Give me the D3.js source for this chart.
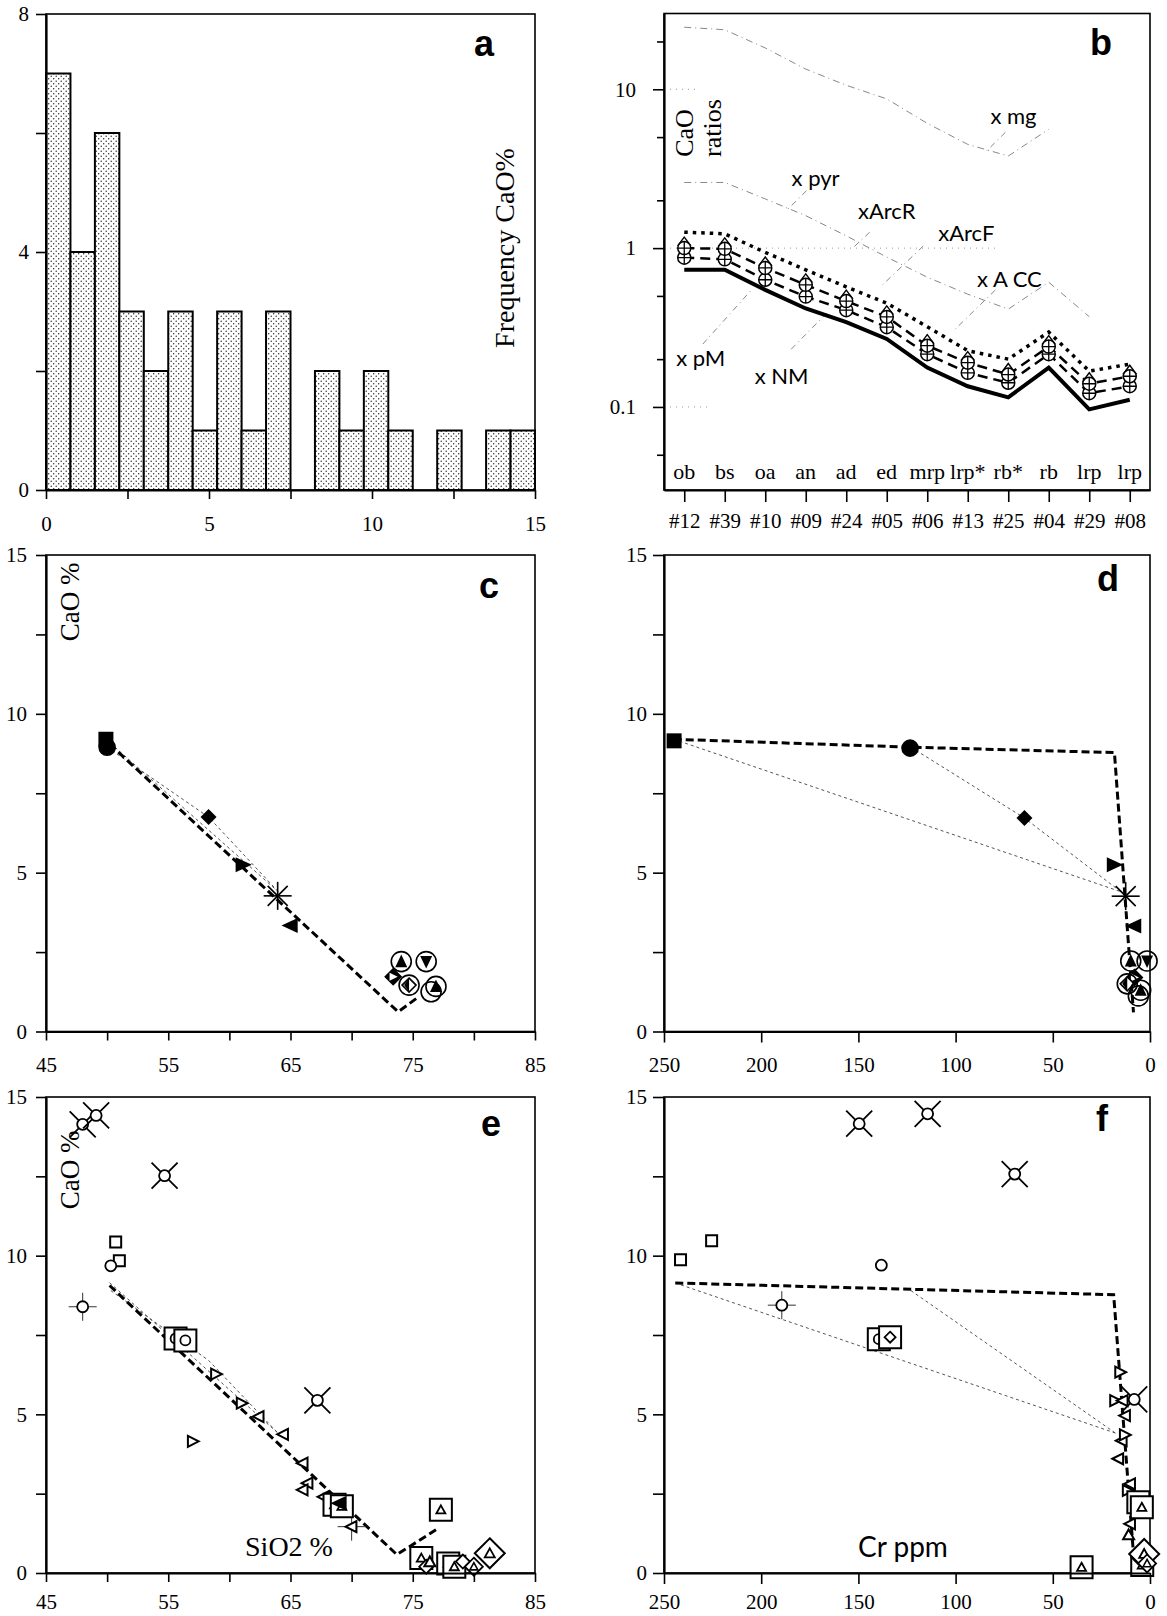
<!DOCTYPE html>
<html><head><meta charset="utf-8">
<script src="https://cdn.jsdelivr.net/npm/d3@7"></script>
<style>body{margin:0;background:#fff}svg{display:block}</style>
</head><body>
<script>
// ---------- panel a: CaO histogram ----------
const binEdges  = [0,0.75,1.5,2.25,3,3.75,4.5,5.25,6,6.75,7.5,8.25,9,9.75,10.5,11.25,12,12.75,13.5,14.25];
const binWidth  = 0.75;
const binCounts = [7,4,6,3,2,3,1,3,1,3,0,2,1,2,1,0,1,0,1,1];

// ---------- panel b: CaO ratios by sample ----------
const sampleCodes = ['#12','#39','#10','#09','#24','#05','#06','#13','#25','#04','#29','#08'];
const rockTypes   = ['ob','bs','oa','an','ad','ed','mrp','lrp*','rb*','rb','lrp','lrp'];
const ratioUpperDotted = [1.26,1.23,0.94,0.73,0.57,0.45,0.32,0.226,0.20,0.296,0.168,0.186];
const ratioUpperDashed = [1.0,0.99,0.75,0.587,0.464,0.369,0.243,0.19,0.16,0.24,0.14,0.156];
const ratioLowerDashed = [0.87,0.85,0.632,0.495,0.407,0.318,0.215,0.164,0.142,0.215,0.122,0.135];
const ratioSolid       = [0.732,0.732,0.546,0.417,0.342,0.268,0.177,0.135,0.115,0.177,0.0966,0.111];
const refMg    = [24.6,23.7,18.2,13.4,10.6,8.7,6.1,4.5,3.8,5.6];
const refCrust = [2.59,2.59,2.04,1.6,1.195,0.878,0.656,0.513,0.413,0.61,0.37];
// reservoir notes: [category position, ratio] for text, leader start, leader end
const refNotes = [
  {text:'x mg',   at:[7.56,6.04],  from:[7.93,5.36], to:[7.43,4.01]},
  {text:'x pyr',  at:[2.65,2.47],  from:[3.02,2.30], to:[2.56,1.76]},
  {text:'xArcR',  at:[4.29,1.52],  from:[4.58,1.26], to:[4.13,0.985]},
  {text:'xArcF',  at:[6.27,1.11],  from:[5.90,1.03], to:[4.87,0.579]},
  {text:'x A CC', at:[7.23,0.566], from:[7.68,0.544], to:[6.69,0.309]},
  {text:'x pM',   at:[-0.2,0.181], from:[0.46,0.249], to:[1.66,0.546]},
  {text:'x NM',   at:[1.74,0.139], from:[2.64,0.231], to:[3.52,0.39]}
];

// ---------- panel c: SiO2 vs CaO, model rocks ----------
const cPoints = [
  [49.9,9.2,'fSq'],[50.0,8.95,'fCi'],[58.3,6.75,'fDi'],[61.1,5.25,'fTR'],
  [63.95,4.27,'ast'],[65.0,3.34,'fTL'],
  [74.06,2.2,'cTU'],[76.1,2.2,'cTD'],[73.4,1.72,'fDT'],[74.7,1.46,'cDi'],
  [76.9,1.42,'cTU'],[76.5,1.25,'ci']
];
const cTrend = [[50.2,9.05],[73.8,0.62],[75.3,1.04]];
const cMixA  = [[49.9,9.2],[64.0,4.4]];
const cMixB  = [[50.0,8.95],[58.3,6.75],[64.0,4.4]];

// ---------- panel d: Cr vs CaO, model rocks ----------
const dPoints = [
  [244.8,9.15,'fSq'],[123.4,8.92,'fCi'],[64.6,6.72,'fDi'],[18.5,5.25,'fTR'],
  [12.5,4.26,'ast'],[8.2,3.32,'fTL'],
  [9.9,2.22,'cTU'],[1.5,2.22,'cTD'],[8.0,1.7,'fDT'],[11.7,1.5,'cDi'],
  [4.8,1.3,'cTU'],[6.0,1.12,'ci']
];
const dTrend = [[245,9.2],[123,8.95],[18.3,8.78],[8.5,0.6]];
const dMixA  = [[245,9.2],[15,4.4]];
const dMixB  = [[123,8.95],[64.6,6.72],[15,4.4]];

// ---------- panel e: SiO2 vs CaO, analysed rocks ----------
const ePoints = [
  [48.0,14.14,'cX'],[49.1,14.42,'cX'],[54.7,12.52,'cX'],[67.2,5.44,'cX'],
  [50.7,10.43,'oSq'],[51.0,9.84,'oSq'],[50.3,9.68,'oCi'],[48.0,8.39,'cPl'],
  [55.6,7.39,'bSC'],[56.4,7.33,'bSC'],
  [58.9,6.27,'oTR'],[57.0,4.15,'oTR'],[61.0,5.35,'oTR'],
  [62.4,4.93,'oTL'],[64.4,4.37,'oTL'],[66.0,3.46,'oTL'],[66.4,2.83,'oTL'],[66.0,2.62,'oTL'],[67.7,2.4,'oTL'],
  [70.0,1.46,'tLx'],
  [68.6,2.15,'bST'],[69.2,2.1,'bST'],[69.0,2.2,'fTL'],
  [77.3,1.99,'bST'],
  [75.7,0.47,'bST'],[76.1,0.2,'oDi'],[76.4,0.35,'oTU'],
  [77.9,0.3,'bST'],[78.4,0.2,'bST'],[79.1,0.36,'oDi'],[80.0,0.2,'dT'],[81.3,0.62,'bDT']
];
const eTrend = [[50.2,9.06],[73.7,0.58],[76.9,1.36]];
const eMixA  = [[50.2,9.15],[64.0,4.4]];
const eMixB  = [[50.3,8.9],[58.3,6.7],[64.0,4.4]];

// ---------- panel f: Cr vs CaO, analysed rocks ----------
const fPoints = [
  [149.6,14.16,'cX'],[114.4,14.47,'cX'],[69.6,12.57,'cX'],[8.1,5.47,'cX'],
  [241.5,9.87,'oSq'],[225.5,10.47,'oSq'],[138.2,9.7,'oCi'],[189.4,8.44,'cPl'],
  [139.5,7.37,'bSC'],[133.7,7.43,'bSD'],
  [15.4,6.33,'oTR'],[18.0,5.43,'oTR'],[14.0,5.43,'oTL'],
  [12.8,4.96,'oTL'],[14.5,4.17,'oTL'],[13.0,4.35,'oTR'],[16.3,3.6,'oTL'],
  [10.2,2.81,'oTL'],[11.5,2.6,'oTR'],[10.2,1.55,'oTL'],[11.0,1.2,'oTU'],
  [6.0,2.23,'bST'],[4.2,2.07,'bST'],
  [35.2,0.18,'bST'],
  [4.0,0.25,'bST'],[6.0,0.5,'oDi'],[3.0,0.6,'bDT'],[1.5,0.3,'dT']
];
const fTrend = [[244.2,9.14],[18.7,8.77],[8.5,0.6]];
const fMixA  = [[244.2,9.14],[17.8,4.41]];
const fMixB  = [[123,8.9],[17.8,4.41]];

// ---------- tick values ----------
const histXTicks = [0,2.5,5,7.5,10,12.5,15];
const histYTicks = [0,2,4,6,8];
const sioTicks = [45,50,55,60,65,70,75,80,85];
const crTicks  = [250,200,150,100,50,0];
const caoTicks = [0,2.5,5,7.5,10,12.5,15];
const ratioTicks = [0.05,0.1,0.2,0.5,1,2,5,10,20];

// ================= drawing =================
const SERIF = '"Liberation Serif","DejaVu Serif",serif';
const SANS  = 'Lato,"Open Sans",sans-serif';
const BOLD  = '"Liberation Sans Narrow","Liberation Sans",Arial,sans-serif';

const svg = d3.select('body').append('svg').attr('width',1167).attr('height',1616);

const defs = svg.append('defs');
const pat = defs.append('pattern').attr('id','stipple').attr('patternUnits','userSpaceOnUse')
  .attr('width',5).attr('height',5);
pat.append('rect').attr('width',5).attr('height',5).attr('fill','#fff');
pat.append('circle').attr('cx',1.2).attr('cy',1.2).attr('r',0.7).attr('fill','#222');
pat.append('circle').attr('cx',3.7).attr('cy',3.7).attr('r',0.7).attr('fill','#222');

const LX = [46,535], RX = [664,1150];
const ROWS = [[14,490],[555,1031.5],[1097,1573]];

function frame(x, y){
  svg.append('rect').attr('x',x[0]).attr('y',y[0]).attr('width',x[1]-x[0]).attr('height',y[1]-y[0])
    .attr('fill','none').attr('stroke','#000').attr('stroke-width',1.6);
}
function styleAxis(g){
  g.select('.domain').attr('stroke-width',2.2);
  g.selectAll('.tick line').attr('stroke-width',1.6);
  g.selectAll('.tick text').attr('font-family',SERIF).attr('font-size',21).attr('fill','#000');
}
function bottomAxis(scale, ticks, fmt, yPos, tick, pad){
  const g = svg.append('g').attr('transform',`translate(0,${yPos})`)
    .call(d3.axisBottom(scale).tickValues(ticks).tickFormat(fmt).tickSize(tick).tickSizeOuter(0).tickPadding(pad));
  styleAxis(g); return g;
}
function leftAxis(scale, ticks, fmt, xPos, tick, pad){
  const g = svg.append('g').attr('transform',`translate(${xPos},0)`)
    .call(d3.axisLeft(scale).tickValues(ticks).tickFormat(fmt).tickSize(tick).tickSizeOuter(0).tickPadding(pad));
  styleAxis(g); return g;
}
function panelLetter(t, x, y){
  svg.append('text').attr('x',x).attr('y',y).attr('text-anchor','middle')
    .attr('font-family',BOLD).attr('font-weight','bold').attr('font-size',36).text(t);
}
function vTitle(t, x, y, size, fam){
  svg.append('text').attr('transform',`translate(${x},${y}) rotate(-90)`).attr('text-anchor','middle')
    .attr('font-family',fam||SERIF).attr('font-size',size).text(t);
}

// ---------- markers ----------
function marker(g, type, x, y){
  const m = g.append('g').attr('transform',`translate(${x},${y})`);
  const P = (d, fill, sw) => m.append('path').attr('d',d).attr('fill',fill).attr('stroke','#000')
      .attr('stroke-width',sw===undefined?1.8:sw).attr('stroke-linejoin','miter');
  const C = (r, fill, sw) => m.append('circle').attr('r',r).attr('fill',fill).attr('stroke','#000').attr('stroke-width',sw||1.6);
  const sq = s => `M${-s},${-s}H${s}V${s}H${-s}Z`;
  const triU = (w,h) => `M0,${-h}L${w},${h*0.8}L${-w},${h*0.8}Z`;
  const triD = (w,h) => `M0,${h}L${w},${-h*0.8}L${-w},${-h*0.8}Z`;
  const triR = (w,h) => `M${w},0L${-w*0.8},${-h}L${-w*0.8},${h}Z`;
  const triL = (w,h) => `M${-w},0L${w*0.8},${-h}L${w*0.8},${h}Z`;
  const dia = r => `M0,${-r}L${r},0L0,${r}L${-r},0Z`;
  switch(type){
    case 'fSq': P(sq(7.5),'#000',0); break;
    case 'fCi': C(8,'#000',0); break;
    case 'fDi': P(dia(8),'#000',0); break;
    case 'fTR': P(triR(9,7.5),'#000',0); break;
    case 'fTL': P(triL(9,7.5),'#000',0); break;
    case 'ast':
      [[14,0],[0,14],[10,10],[10,-10]].forEach(([a,b]) =>
        m.append('line').attr('x1',-a).attr('y1',-b).attr('x2',a).attr('y2',b).attr('stroke','#000').attr('stroke-width',1.6));
      break;
    case 'cTU': C(10,'none'); P(triU(6,7),'#000',0); break;
    case 'cTD': C(10,'none'); P(triD(6,7),'#000',0); break;
    case 'cDi': C(10,'none'); P(dia(7),'#fff',1.6); P('M0,-7L-5,0L0,7Z','#000',0); break;
    case 'fDT': P(dia(9),'#000',0); P(triR(4.5,4),'#fff',0); break;
    case 'ci':  C(10,'none'); break;
    case 'cX':
      C(5.5,'#fff',1.8);
      [[1,1],[1,-1],[-1,1],[-1,-1]].forEach(([a,b]) =>
        m.append('line').attr('x1',a*4).attr('y1',b*4).attr('x2',a*13).attr('y2',b*13).attr('stroke','#000').attr('stroke-width',1.8));
      break;
    case 'oSq': P(sq(5.5),'#fff',2); break;
    case 'oCi': C(5.5,'#fff',1.8); break;
    case 'cPl':
      [[0,1],[1,0]].forEach(([a,b]) =>
        m.append('line').attr('x1',-a*14).attr('y1',-b*14).attr('x2',a*14).attr('y2',b*14).attr('stroke','#333').attr('stroke-width',1));
      C(5.5,'#fff',1.8); break;
    case 'bSC': P(sq(11),'#fff',2); C(5,'#fff',1.8); break;
    case 'bSD': P(sq(11),'#fff',2); P(dia(5.5),'#fff',1.8); break;
    case 'oTR': P(triR(6,5.5),'#fff',2); break;
    case 'oTL': P(triL(6,5.5),'#fff',2); break;
    case 'oTU': P(triU(5.5,5.5),'#fff',2); break;
    case 'tLx':
      [[0,1],[1,0]].forEach(([a,b]) =>
        m.append('line').attr('x1',-a*14).attr('y1',-b*14).attr('x2',a*14).attr('y2',b*14).attr('stroke','#333').attr('stroke-width',1));
      P(triL(6,5.5),'#fff',2); break;
    case 'bST': P(sq(11),'#fff',2); P(triU(4.5,4.5),'#fff',1.8); break;
    case 'oDi': P(dia(7),'#fff',1.8); break;
    case 'dT':  P(dia(9),'#fff',1.8); P(triU(4,4),'#fff',1.6); break;
    case 'bDT': P(dia(15),'#fff',2); P(triU(5,5),'#fff',1.8); break;
  }
}

function modelLines(x, y, trend, mixA, mixB){
  const ln = d3.line().x(d=>x(d[0])).y(d=>y(d[1]));
  [mixA, mixB].forEach(d => svg.append('path').attr('d',ln(d)).attr('fill','none')
    .attr('stroke','#555').attr('stroke-width',1).attr('stroke-dasharray','3,3'));
  svg.append('path').attr('d',ln(trend)).attr('fill','none').attr('stroke','#000')
    .attr('stroke-width',3).attr('stroke-dasharray','8,4');
}
function scatter(x, y, pts){
  const g = svg.append('g');
  pts.forEach(p => marker(g, p[2], x(p[0]), y(p[1])));
}

// ===== panel a =====
{
  const [y0,y1] = ROWS[0];
  const x = d3.scaleLinear().domain([0,15]).range(LX);
  const y = d3.scaleLinear().domain([0,8]).range([y1,y0]);
  frame(LX,[y0,y1]);
  const bins = binCounts.map((c,i)=>({x0:binEdges[i], c})).filter(d=>d.c>0);
  svg.append('g').selectAll('rect').data(bins).join('rect')
    .attr('x',d=>x(d.x0)).attr('width',d=>x(d.x0+binWidth)-x(d.x0))
    .attr('y',d=>y(d.c)).attr('height',d=>y(0)-y(d.c))
    .attr('fill','url(#stipple)').attr('stroke','#000').attr('stroke-width',2);
  bottomAxis(x, histXTicks, d=>Number.isInteger(d/5)?d:'', y1, 9, 17);
  leftAxis(y, histYTicks, d=>d%4===0?d:'', LX[0], 10, 7);
  vTitle('Frequency CaO%', 514, 248, 28);
  panelLetter('a', 484, 56);
}

// ===== panel b =====
{
  const [y0,y1] = [13.5,490];
  const x = d3.scalePoint().domain(sampleCodes).range(RX).padding(0.5);
  const y = d3.scaleLog().domain([0.03,30]).range([y1,y0]);
  const xAt = i => x(sampleCodes[0]) + i*x.step();
  frame(RX,[y0,y1]);
  // faint guide lines at decades
  [[10,700],[1,995],[0.1,710]].forEach(([v,xe]) =>
    svg.append('line').attr('x1',RX[0]).attr('x2',xe).attr('y1',y(v)).attr('y2',y(v))
      .attr('stroke','#999').attr('stroke-width',1).attr('stroke-dasharray','1,5'));
  const ln = d3.line().x((d,i)=>x(sampleCodes[i])).y(d=>y(d));
  [refMg, refCrust].forEach(s => svg.append('path').attr('d',ln(s)).attr('fill','none')
    .attr('stroke','#888').attr('stroke-width',1).attr('stroke-dasharray','7,4,1,4'));
  refNotes.forEach(n => {
    svg.append('line').attr('x1',xAt(n.from[0])).attr('y1',y(n.from[1]))
      .attr('x2',xAt(n.to[0])).attr('y2',y(n.to[1]))
      .attr('stroke','#888').attr('stroke-width',1).attr('stroke-dasharray','6,4,1,4');
    svg.append('text').attr('x',xAt(n.at[0])).attr('y',y(n.at[1]))
      .attr('font-family',SANS).attr('font-size',22).text(n.text);
  });
  svg.append('path').attr('d',ln(ratioUpperDotted)).attr('fill','none').attr('stroke','#000')
    .attr('stroke-width',3.5).attr('stroke-dasharray','3.5,5');
  [ratioUpperDashed, ratioLowerDashed].forEach(s => svg.append('path').attr('d',ln(s)).attr('fill','none')
    .attr('stroke','#000').attr('stroke-width',2.5).attr('stroke-dasharray','10,6'));
  svg.append('path').attr('d',ln(ratioSolid)).attr('fill','none').attr('stroke','#000').attr('stroke-width',4);
  // crossed-circle markers on both dashed series
  const mk = svg.append('g');
  [[ratioLowerDashed,false],[ratioUpperDashed,true]].forEach(([s,hat]) => s.forEach((v,i) => {
    const g = mk.append('g').attr('transform',`translate(${x(sampleCodes[i])},${y(v)})`);
    if (hat) g.append('path').attr('d','M0,-11L6,-3L-6,-3Z').attr('fill','#fff').attr('stroke','#000').attr('stroke-width',1.4);
    g.append('circle').attr('r',6.5).attr('fill','#fff').attr('stroke','#000').attr('stroke-width',1.5);
    g.append('path').attr('d','M-6.5,0H6.5M0,-6.5V6.5').attr('stroke','#000').attr('stroke-width',1.3);
  }));
  svg.append('g').selectAll('text').data(rockTypes).join('text')
    .attr('x',(d,i)=>x(sampleCodes[i])).attr('y',479).attr('text-anchor','middle')
    .attr('font-family',SERIF).attr('font-size',22).text(d=>d);
  bottomAxis(x, sampleCodes, d=>d, y1, 12, 11);
  const la = leftAxis(y, ratioTicks, d=>(d===10||d===1||d===0.1)?String(d):'', RX[0], 11, 17);
  la.selectAll('.tick line').attr('x2', d=>(d===10||d===1||d===0.1)?-11:-7);
  vTitle('CaO', 693, 133, 26);
  vTitle('ratios', 721, 128, 26);
  panelLetter('b', 1101, 55);
}

// ===== panel c =====
{
  const [y0,y1] = ROWS[1];
  const x = d3.scaleLinear().domain([45,85]).range(LX);
  const y = d3.scaleLinear().domain([0,15]).range([y1,y0]);
  frame(LX,[y0,y1]);
  modelLines(x, y, cTrend, cMixA, cMixB);
  scatter(x, y, cPoints);
  bottomAxis(x, sioTicks, d=>(d-45)%10===0?d:'', y1, 9, 17);
  leftAxis(y, caoTicks, d=>d%5===0?d:'', LX[0], 10, 9);
  vTitle('CaO %', 79, 602, 27);
  panelLetter('c', 489, 598);
}

// ===== panel d =====
{
  const [y0,y1] = ROWS[1];
  const x = d3.scaleLinear().domain([250,0]).range(RX);
  const y = d3.scaleLinear().domain([0,15]).range([y1,y0]);
  frame(RX,[y0,y1]);
  modelLines(x, y, dTrend, dMixA, dMixB);
  scatter(x, y, dPoints);
  bottomAxis(x, crTicks, d=>d, y1, 11, 15);
  leftAxis(y, caoTicks, d=>d%5===0?d:'', RX[0], 11, 6);
  panelLetter('d', 1108, 591);
}

// ===== panel e =====
{
  const [y0,y1] = ROWS[2];
  const x = d3.scaleLinear().domain([45,85]).range(LX);
  const y = d3.scaleLinear().domain([0,15]).range([y1,y0]);
  frame(LX,[y0,y1]);
  modelLines(x, y, eTrend, eMixA, eMixB);
  scatter(x, y, ePoints);
  bottomAxis(x, sioTicks, d=>(d-45)%10===0?d:'', y1, 9, 12);
  leftAxis(y, caoTicks, d=>d%5===0?d:'', LX[0], 10, 9);
  vTitle('CaO %', 79, 1170, 27);
  svg.append('text').attr('x',289).attr('y',1556).attr('text-anchor','middle')
    .attr('font-family',SERIF).attr('font-size',28).text('SiO2 %');
  panelLetter('e', 491, 1136);
}

// ===== panel f =====
{
  const [y0,y1] = ROWS[2];
  const x = d3.scaleLinear().domain([250,0]).range(RX);
  const y = d3.scaleLinear().domain([0,15]).range([y1,y0]);
  frame(RX,[y0,y1]);
  modelLines(x, y, fTrend, fMixA, fMixB);
  scatter(x, y, fPoints);
  bottomAxis(x, crTicks, d=>d, y1, 11, 10);
  leftAxis(y, caoTicks, d=>d%5===0?d:'', RX[0], 11, 6);
  svg.append('text').attr('x',903).attr('y',1557).attr('text-anchor','middle')
    .attr('font-family',SANS).attr('font-size',28).text('Cr ppm');
  panelLetter('f', 1102, 1131);
}
</script>
</body></html>
